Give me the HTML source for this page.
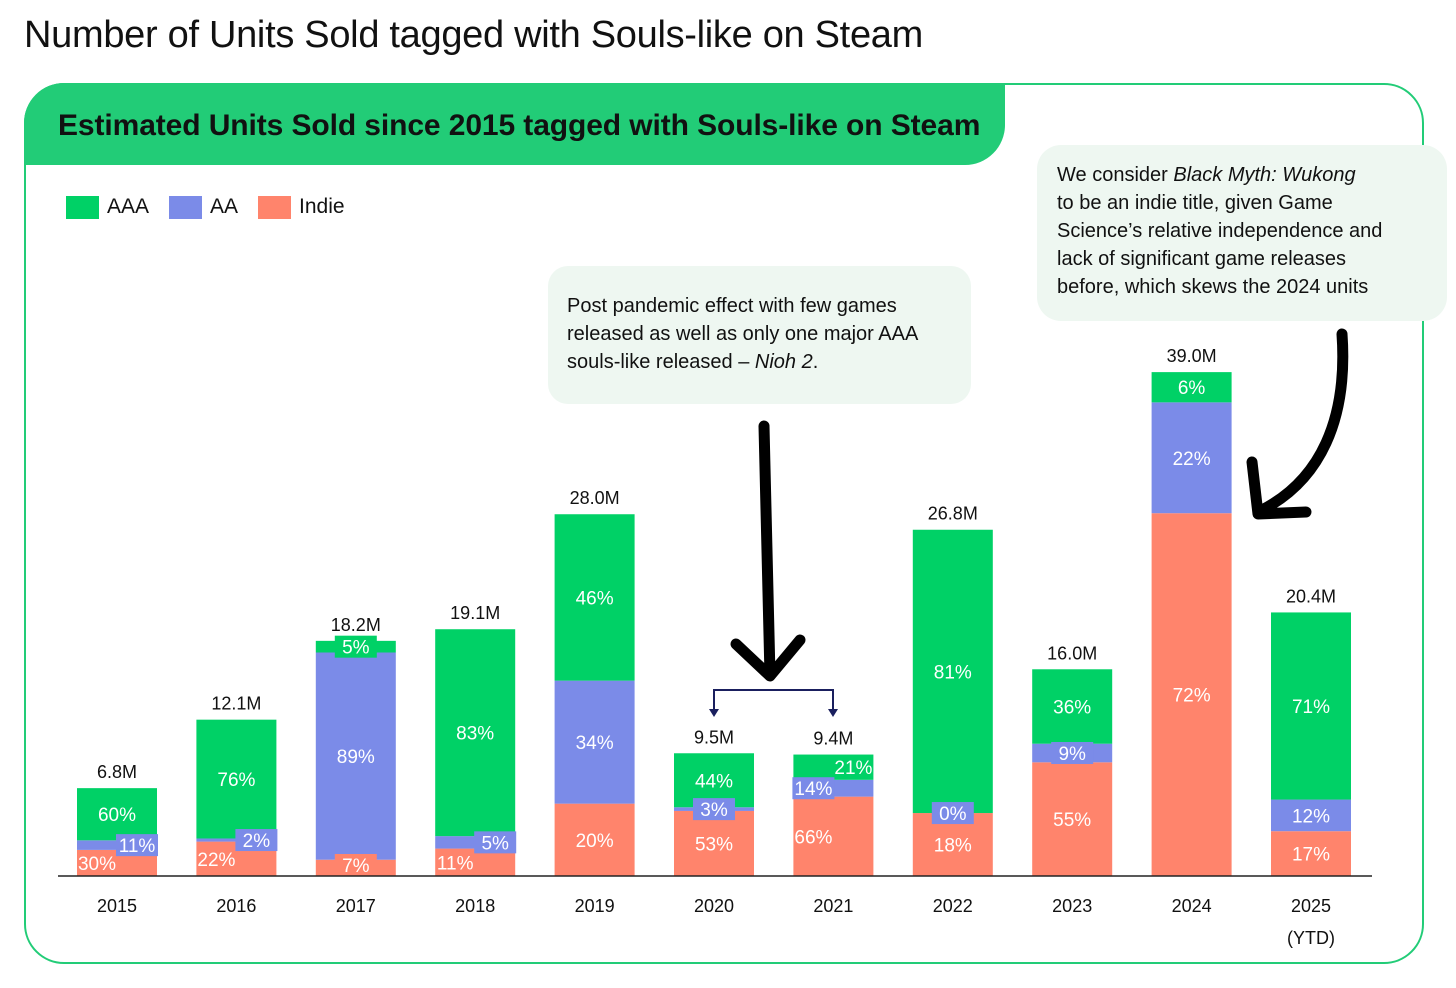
<!DOCTYPE html>
<html><head><meta charset="utf-8"><style>
body{margin:0;width:1456px;height:988px;background:#fff;font-family:"Liberation Sans",sans-serif;position:relative;overflow:hidden}
.t{position:absolute}
</style></head><body>
<div class="t" style="left:24px;top:14px;font-size:38px;color:#111;letter-spacing:-0.3px">Number of Units Sold tagged with Souls-like on Steam</div>
<div class="t" style="left:24px;top:83px;width:1396px;height:877px;border:2px solid #22cc77;border-radius:40px"></div>
<div class="t" style="left:24px;top:83px;width:981px;height:82px;background:#22cc77;border-radius:40px 0 40px 0"></div>
<div class="t" style="left:58px;top:109px;font-size:30px;font-weight:bold;color:#111;letter-spacing:-0.1px">Estimated Units Sold since 2015 tagged with Souls-like on Steam</div>
<div class="t" style="left:66px;top:195px;font-size:21px;color:#111;display:flex;align-items:center;gap:8px">
<span style="width:33px;height:23px;background:#00d166;display:inline-block"></span><span style="margin-right:12px">AAA</span>
<span style="width:33px;height:23px;background:#7b8be8;display:inline-block"></span><span style="margin-right:12px">AA</span>
<span style="width:33px;height:23px;background:#ff846c;display:inline-block"></span><span>Indie</span></div>
<div class="t" style="left:548px;top:266px;width:385px;height:108px;padding:26px 19px 4px;background:#eef7f1;border-radius:20px;font-size:20px;line-height:28px;color:#111">Post pandemic effect with few games<br>released as well as only one major AAA<br>souls-like released – <i>Nioh 2</i>.</div>
<div class="t" style="left:1037px;top:145px;width:370px;height:160px;padding:16px 20px 0;background:#eef7f1;border-radius:24px;font-size:20px;line-height:28px;color:#111;white-space:nowrap">We consider <i>Black Myth: Wukong</i><br>to be an indie title, given Game<br>Science’s relative independence and<br>lack of significant game releases<br>before, which skews the 2024 units</div>
<svg class="t" style="left:0;top:0" width="1456" height="988" id="chart">
<path d="M764 426 C766 500 768 580 770 676 M736 644 L770 676 L800 640" stroke="#000" stroke-width="11" fill="none" stroke-linecap="round" stroke-linejoin="round"/>
<path d="M714 712 L714 690 L833 690 L833 712" stroke="#1a1f5e" stroke-width="2" fill="none"/>
<path d="M709 709 L714 717 L719 709 Z M828 709 L833 717 L838 709 Z" fill="#1a1f5e"/>
<path d="M1342 334 C1348 420 1320 480 1262 510 M1252 462 L1258 514 L1306 512" stroke="#000" stroke-width="11" fill="none" stroke-linecap="round" stroke-linejoin="round"/>
</svg>
<script>
const years=['2015','2016','2017','2018','2019','2020','2021','2022','2023','2024','2025'];
const totals=[6.8,12.1,18.2,19.1,28.0,9.5,9.4,26.8,16.0,39.0,20.4];
const aaaPct=[60,76,5,83,46,44,21,81,36,6,71];
const aaPct=[11,2,89,5,34,3,14,0,9,22,12];
const indiePct=[30,22,7,11,20,53,66,18,55,72,17];
const labelOffsets=[[-1,1,0],[-1,1,0],[0,0,0],[-1,1,0],[0,0,0],[0,0,0],[-1,-1,1],[0,0,0],[0,0,0],[0,0,0],[0,0,0]];
const svg=document.getElementById('chart');const NS='http://www.w3.org/2000/svg';
const base=876,pxPerM=12.92,x0=117,step=119.4,bw=80;
const y=v=>base-v*pxPerM, xc=i=>x0+i*step;
function mk(tag,a){const e=document.createElementNS(NS,tag);for(const k in a)e.setAttribute(k,a[k]);svg.appendChild(e);return e;}
const cols=['#ff846c','#7b8be8','#00d166'];const names=['indie','aa','aaa'];
const labels=[];
years.forEach((yr,i)=>{
 const pcts=[indiePct[i],aaPct[i],aaaPct[i]];const sum=pcts.reduce((a,b)=>a+b,0);
 let cum=0;
 pcts.forEach((p,s)=>{
  const v0=totals[i]*cum/sum,v1=totals[i]*(cum+p)/sum;cum+=p;
  const r=mk('rect',{x:xc(i)-bw/2,y:y(v1),width:bw,height:Math.max(0,y(v0)-y(v1)),fill:cols[s]});
  
  
  const h=y(v0)-y(v1);let ly=(y(v0)+y(v1))/2;
  if(h<24&&s==0)ly=Math.min(ly,base-11);
  labels.push({i,s,p,yr,small:h<24,lx:xc(i)+labelOffsets[i][s]*20,ly});
 });
 const tt=mk('text',{x:xc(i),y:y(totals[i])-10,'text-anchor':'middle','font-size':18,fill:'#111','font-family':'Liberation Sans, sans-serif'});
 tt.textContent=totals[i].toFixed(1)+'M';
 
 
 const xl=mk('text',{x:xc(i),y:912,'text-anchor':'middle','font-size':18,fill:'#111','font-family':'Liberation Sans, sans-serif'});
 xl.textContent=yr;
 
 
});
labels.forEach(L=>{
 if(L.small){
  const bg=mk('rect',{x:L.lx-21,y:L.ly-11,width:42,height:22,fill:cols[L.s]});
  
  
 }
 const t=mk('text',{x:L.lx,y:L.ly+7,'text-anchor':'middle','font-size':19,fill:'#fff','font-family':'Liberation Sans, sans-serif'});
 t.textContent=L.p+'%';
 
 
});
const ytd=mk('text',{x:xc(10),y:944,'text-anchor':'middle','font-size':18,fill:'#111','font-family':'Liberation Sans, sans-serif'});
ytd.textContent='(YTD)';


const ax=mk('line',{x1:58,x2:1372,y1:base,y2:base,stroke:'#222','stroke-width':1.5});


</script>
</body></html>
